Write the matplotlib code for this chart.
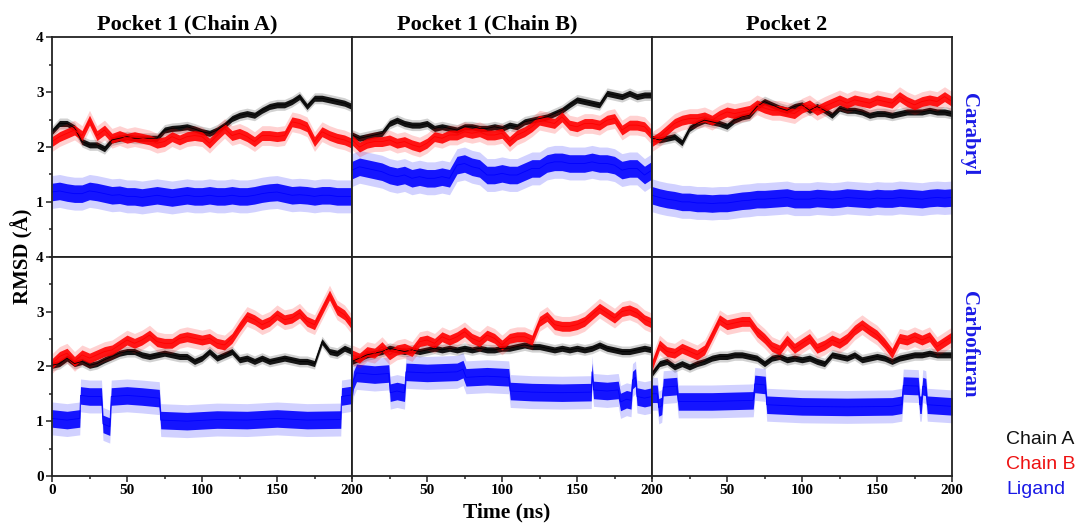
import matplotlib

matplotlib.use("Agg")
import matplotlib.pyplot as plt
import numpy as np
from matplotlib.ticker import MultipleLocator

# time grid of the chain traces (ns)
T = np.arange(0, 201, 5)

# ---- Carabryl row ----
p1_chain_a = [2.28, 2.43, 2.43, 2.35, 2.1, 2.04, 2.04, 1.97, 2.13, 2.16, 2.19, 2.16, 2.16, 2.16,
              2.16, 2.31, 2.34, 2.35, 2.37, 2.33, 2.28, 2.25, 2.31, 2.4, 2.52, 2.58, 2.61, 2.58,
              2.67, 2.74, 2.77, 2.77, 2.83, 2.92, 2.74, 2.89, 2.89, 2.86, 2.83, 2.8, 2.74]
p1_chain_b = [2.1, 2.19, 2.25, 2.31, 2.21, 2.49, 2.21, 2.31, 2.16, 2.21, 2.16, 2.19, 2.16, 2.13,
              2.07, 2.1, 2.19, 2.13, 2.19, 2.21, 2.19, 2.07, 2.21, 2.34, 2.21, 2.25, 2.19, 2.1,
              2.21, 2.21, 2.19, 2.21, 2.46, 2.43, 2.37, 2.1, 2.28, 2.21, 2.16, 2.13, 2.07]
p1_ligand = [1.18, 1.2, 1.17, 1.15, 1.15, 1.2, 1.18, 1.15, 1.12, 1.13, 1.1, 1.1, 1.08, 1.1,
             1.12, 1.1, 1.08, 1.1, 1.12, 1.1, 1.1, 1.12, 1.1, 1.1, 1.12, 1.1, 1.1, 1.12, 1.15,
             1.17, 1.18, 1.15, 1.12, 1.13, 1.12, 1.1, 1.12, 1.12, 1.1, 1.1, 1.1]

p2_chain_a = [2.22, 2.16, 2.19, 2.22, 2.25, 2.43, 2.49, 2.43, 2.4, 2.4, 2.43, 2.34, 2.37, 2.34,
              2.31, 2.37, 2.37, 2.34, 2.34, 2.37, 2.34, 2.4, 2.37, 2.46, 2.49, 2.52, 2.55, 2.61,
              2.67, 2.77, 2.86, 2.83, 2.8, 2.77, 2.98, 2.95, 2.92, 2.98, 2.92, 2.95, 2.95]
p2_chain_b = [2.13, 2.0, 2.07, 2.1, 2.1, 2.13, 2.07, 2.1, 2.04, 2.0, 2.07, 2.19, 2.16, 2.22,
              2.22, 2.28, 2.25, 2.28, 2.22, 2.22, 2.25, 2.1, 2.22, 2.28, 2.37, 2.49, 2.46, 2.43,
              2.55, 2.4, 2.37, 2.43, 2.43, 2.4, 2.49, 2.52, 2.31, 2.4, 2.4, 2.37, 2.22]
p2_ligand = [1.58, 1.64, 1.61, 1.58, 1.55, 1.49, 1.46, 1.49, 1.43, 1.46, 1.43, 1.43, 1.46, 1.43,
             1.67, 1.7, 1.64, 1.61, 1.49, 1.49, 1.52, 1.49, 1.49, 1.55, 1.61, 1.61, 1.7, 1.73,
             1.73, 1.7, 1.7, 1.7, 1.73, 1.7, 1.7, 1.67, 1.58, 1.61, 1.61, 1.49, 1.58]

p3_chain_a = [2.16, 2.13, 2.16, 2.19, 2.08, 2.34, 2.43, 2.49, 2.46, 2.43, 2.38, 2.49, 2.55, 2.58,
              2.74, 2.83, 2.77, 2.71, 2.67, 2.74, 2.77, 2.67, 2.74, 2.67, 2.58, 2.71, 2.67, 2.67,
              2.64, 2.58, 2.61, 2.61, 2.58, 2.61, 2.64, 2.64, 2.64, 2.67, 2.64, 2.64, 2.61]
p3_chain_b = [2.1, 2.19, 2.31, 2.43, 2.49, 2.52, 2.52, 2.55, 2.49, 2.58, 2.64, 2.61, 2.64, 2.67,
              2.77, 2.71, 2.67, 2.67, 2.64, 2.61, 2.71, 2.77, 2.67, 2.74, 2.8, 2.86, 2.8, 2.86,
              2.83, 2.8, 2.86, 2.83, 2.8, 2.92, 2.83, 2.77, 2.83, 2.86, 2.83, 2.92, 2.83]
p3_ligand = [1.12, 1.08, 1.05, 1.03, 1.0, 1.0, 0.98, 0.98, 0.97, 0.98, 0.98, 1.0, 1.02, 1.03,
             1.05, 1.05, 1.06, 1.07, 1.08, 1.05, 1.05, 1.05, 1.07, 1.06, 1.05, 1.06, 1.08, 1.07,
             1.06, 1.05, 1.07, 1.06, 1.06, 1.08, 1.07, 1.06, 1.05, 1.07, 1.08, 1.07, 1.08]

# ---- Carbofuran row ----
p4_chain_a = [2.02, 2.05, 2.15, 2.05, 2.09, 2.02, 2.05, 2.12, 2.18, 2.24, 2.27, 2.27, 2.21, 2.18,
              2.21, 2.24, 2.21, 2.18, 2.18, 2.09, 2.15, 2.27, 2.15, 2.21, 2.27, 2.12, 2.15, 2.09,
              2.15, 2.09, 2.12, 2.15, 2.12, 2.09, 2.09, 2.05, 2.45, 2.27, 2.24, 2.33, 2.27]
p4_chain_b = [2.05, 2.18, 2.24, 2.09, 2.21, 2.15, 2.21, 2.27, 2.3, 2.39, 2.48, 2.42, 2.48, 2.57,
              2.45, 2.42, 2.42, 2.51, 2.54, 2.51, 2.48, 2.51, 2.42, 2.39, 2.51, 2.72, 2.91, 2.85,
              2.76, 2.82, 2.94, 2.85, 2.88, 2.97, 2.82, 2.76, 3.03, 3.3, 3.03, 2.94, 2.76]
p4_lig_t = [0, 10, 18.5, 19, 25, 33, 34, 38.5, 39.5, 50, 60, 71.5, 72.5, 90, 110, 130, 150, 170,
            192.5, 193, 200]
p4_lig_y = [1.05, 1.02, 1.05, 1.47, 1.45, 1.45, 0.95, 0.9, 1.45, 1.47, 1.45, 1.42, 1.02, 1.0,
            1.03, 1.02, 1.05, 1.02, 1.03, 1.45, 1.48]

p5_chain_a = [2.09, 2.15, 2.21, 2.24, 2.27, 2.33, 2.3, 2.27, 2.3, 2.27, 2.3, 2.33, 2.3, 2.33,
              2.3, 2.33, 2.3, 2.33, 2.3, 2.3, 2.33, 2.33, 2.36, 2.39, 2.36, 2.36, 2.33, 2.3,
              2.33, 2.3, 2.33, 2.3, 2.33, 2.39, 2.33, 2.3, 2.27, 2.27, 2.3, 2.33, 2.3]
p5_chain_b = [2.21, 2.15, 2.27, 2.24, 2.36, 2.21, 2.3, 2.33, 2.27, 2.45, 2.48, 2.42, 2.54, 2.48,
              2.54, 2.63, 2.51, 2.45, 2.57, 2.51, 2.39, 2.51, 2.54, 2.54, 2.48, 2.82, 2.91, 2.76,
              2.73, 2.73, 2.76, 2.82, 2.94, 3.06, 2.97, 2.88, 3.0, 3.03, 2.97, 2.85, 2.79]
p5_lig_t = [0, 1, 3, 15, 24.5, 25.5, 30, 35, 36, 50, 70, 74, 76, 90, 104.5, 105.5, 120, 140,
            159.5, 160, 161, 170, 177.5, 179, 183, 186, 187, 189, 190, 195, 200]
p5_lig_y = [1.55, 1.75, 1.88, 1.85, 1.87, 1.52, 1.55, 1.52, 1.9, 1.88, 1.9, 1.95, 1.8, 1.82,
            1.8, 1.55, 1.53, 1.52, 1.53, 1.9, 1.57, 1.55, 1.57, 1.35, 1.4, 1.38, 1.75, 1.8,
            1.45, 1.42, 1.45]

p6_chain_a = [1.87, 2.05, 2.09, 1.99, 2.05, 1.99, 2.05, 2.09, 2.15, 2.18, 2.18, 2.21, 2.21, 2.18,
              2.15, 2.05, 2.15, 2.18, 2.12, 2.15, 2.12, 2.15, 2.09, 2.05, 2.21, 2.18, 2.15, 2.21,
              2.12, 2.15, 2.18, 2.15, 2.09, 2.15, 2.18, 2.21, 2.21, 2.24, 2.21, 2.21, 2.21]
p6_chain_b = [2.02, 2.39, 2.27, 2.24, 2.33, 2.27, 2.21, 2.3, 2.57, 2.85, 2.76, 2.79, 2.82, 2.82,
              2.63, 2.51, 2.36, 2.3, 2.48, 2.33, 2.42, 2.51, 2.33, 2.39, 2.48, 2.42, 2.51, 2.66,
              2.76, 2.66, 2.57, 2.42, 2.24, 2.51, 2.48, 2.54, 2.48, 2.54, 2.36, 2.45, 2.54]
p6_lig_t = [0, 3.5, 4.5, 6.5, 7.5, 16.5, 17.5, 40, 67.5, 68.5, 75.5, 76.5, 100, 130, 160, 166.5,
            167.5, 177.5, 178.5, 179.5, 180.5, 182.5, 183.5, 200]
p6_lig_y = [1.5, 1.5, 1.25, 1.28, 1.62, 1.64, 1.36, 1.36, 1.38, 1.68, 1.66, 1.3, 1.27, 1.26,
            1.27, 1.3, 1.65, 1.64, 1.3, 1.3, 1.64, 1.62, 1.3, 1.27]

col_titles = ["Pocket 1 (Chain A)", "Pocket 1 (Chain B)", "Pocket 2"]
row_labels = ["Carabryl", "Carbofuran"]
series_names = ["Chain A", "Chain B", "Ligand"]

panels = [
    [(T, p1_chain_a, T, p1_chain_b, T, p1_ligand),
     (T, p2_chain_a, T, p2_chain_b, T, p2_ligand),
     (T, p3_chain_a, T, p3_chain_b, T, p3_ligand)],
    [(T, p4_chain_a, T, p4_chain_b, p4_lig_t, p4_lig_y),
     (T, p5_chain_a, T, p5_chain_b, p5_lig_t, p5_lig_y),
     (T, p6_chain_a, T, p6_chain_b, p6_lig_t, p6_lig_y)],
]

COLORS = {"Chain A": "#000000", "Chain B": "#ff0000", "Ligand": "#0000ff"}
# (core half-width, halo half-width) of the noisy band drawn round each trace
BAND = {"Chain A": (0.055, 0.1), "Chain B": (0.09, 0.18), "Ligand": (0.16, 0.3)}

SERIF = "Liberation Serif"
SANS = "Liberation Sans"


def draw_trace(ax, t, y, name):
    y = np.asarray(y, dtype=float)
    core, halo = BAND[name]
    c = COLORS[name]
    ax.fill_between(t, y - halo, y + halo, color=c, alpha=0.18, lw=0)
    ax.fill_between(t, y - core, y + core, color=c, alpha=0.9, lw=0)
    ax.plot(t, y, color=c, lw=0.6)


fig = plt.figure(figsize=(10.87, 5.25), dpi=100)
W, H = 1087, 525
left_px, top_px, pw, ph = 52, 37.4, 300, 219.3

for r in range(2):
    for c in range(3):
        x0 = (left_px + c * pw) / W
        y0 = 1 - (top_px + (r + 1) * ph) / H
        ax = fig.add_axes([x0, y0, pw / W, ph / H])
        ta, ya, tb, yb, tl, yl = panels[r][c]
        draw_trace(ax, tl, yl, "Ligand")
        draw_trace(ax, ta, ya, "Chain A")
        draw_trace(ax, tb, yb, "Chain B")
        ax.set_xlim(0, 200)
        ax.set_ylim(0, 4)
        for sp in ax.spines.values():
            sp.set_linewidth(1.3)
            sp.set_color("#222222")
        ax.tick_params(which="both", direction="out", width=1.1, color="#222222",
                       labelsize=11, pad=2)
        ax.tick_params(which="major", length=4)
        ax.tick_params(which="minor", length=2.5)

        if c == 0:
            ax.set_yticks([1, 2, 3, 4] if r == 0 else [0, 1, 2, 3, 4])
            ax.yaxis.set_minor_locator(MultipleLocator(0.5))
        else:
            ax.set_yticks([])
            ax.yaxis.set_minor_locator(plt.NullLocator())

        if r == 1:
            ax.set_xticks([0, 50, 100, 150, 200] if c == 0 else [50, 100, 150, 200])
            ax.xaxis.set_minor_locator(MultipleLocator(25))
        else:
            ax.set_xticks([])
            ax.xaxis.set_minor_locator(plt.NullLocator())

        for lab in ax.get_xticklabels() + ax.get_yticklabels():
            lab.set_fontfamily(SERIF)
            lab.set_fontweight("bold")

        if r == 0:
            ax.text(0.45, 1.012, col_titles[c], transform=ax.transAxes, ha="center",
                    va="bottom", fontsize=16, fontweight="bold", family=SERIF)
        if c == 2:
            ax.text(1.055, 0.56 if r == 0 else 0.6, row_labels[r], transform=ax.transAxes,
                    rotation=-90, ha="center", va="center", fontsize=15,
                    fontweight="bold", family=SERIF, color="#1a1ae6")

fig.text(22 / W, 1 - 256 / H, "RMSD (Å)", rotation=90, ha="center", va="center",
         fontsize=15, fontweight="bold", family=SERIF)
fig.text(507 / W, 1 - 512 / H, "Time (ns)", ha="center", va="center",
         fontsize=15.5, fontweight="bold", family=SERIF)

for i, name in enumerate(series_names):
    fig.text(1006 / W, 1 - (440 + 24.5 * i) / H, name, ha="left", va="center",
             fontsize=14, family=SANS, color={"Chain A": "#111111", "Chain B": "#ee1111",
                                              "Ligand": "#1a1ae6"}[name])

fig.savefig("out.png", dpi=100)
